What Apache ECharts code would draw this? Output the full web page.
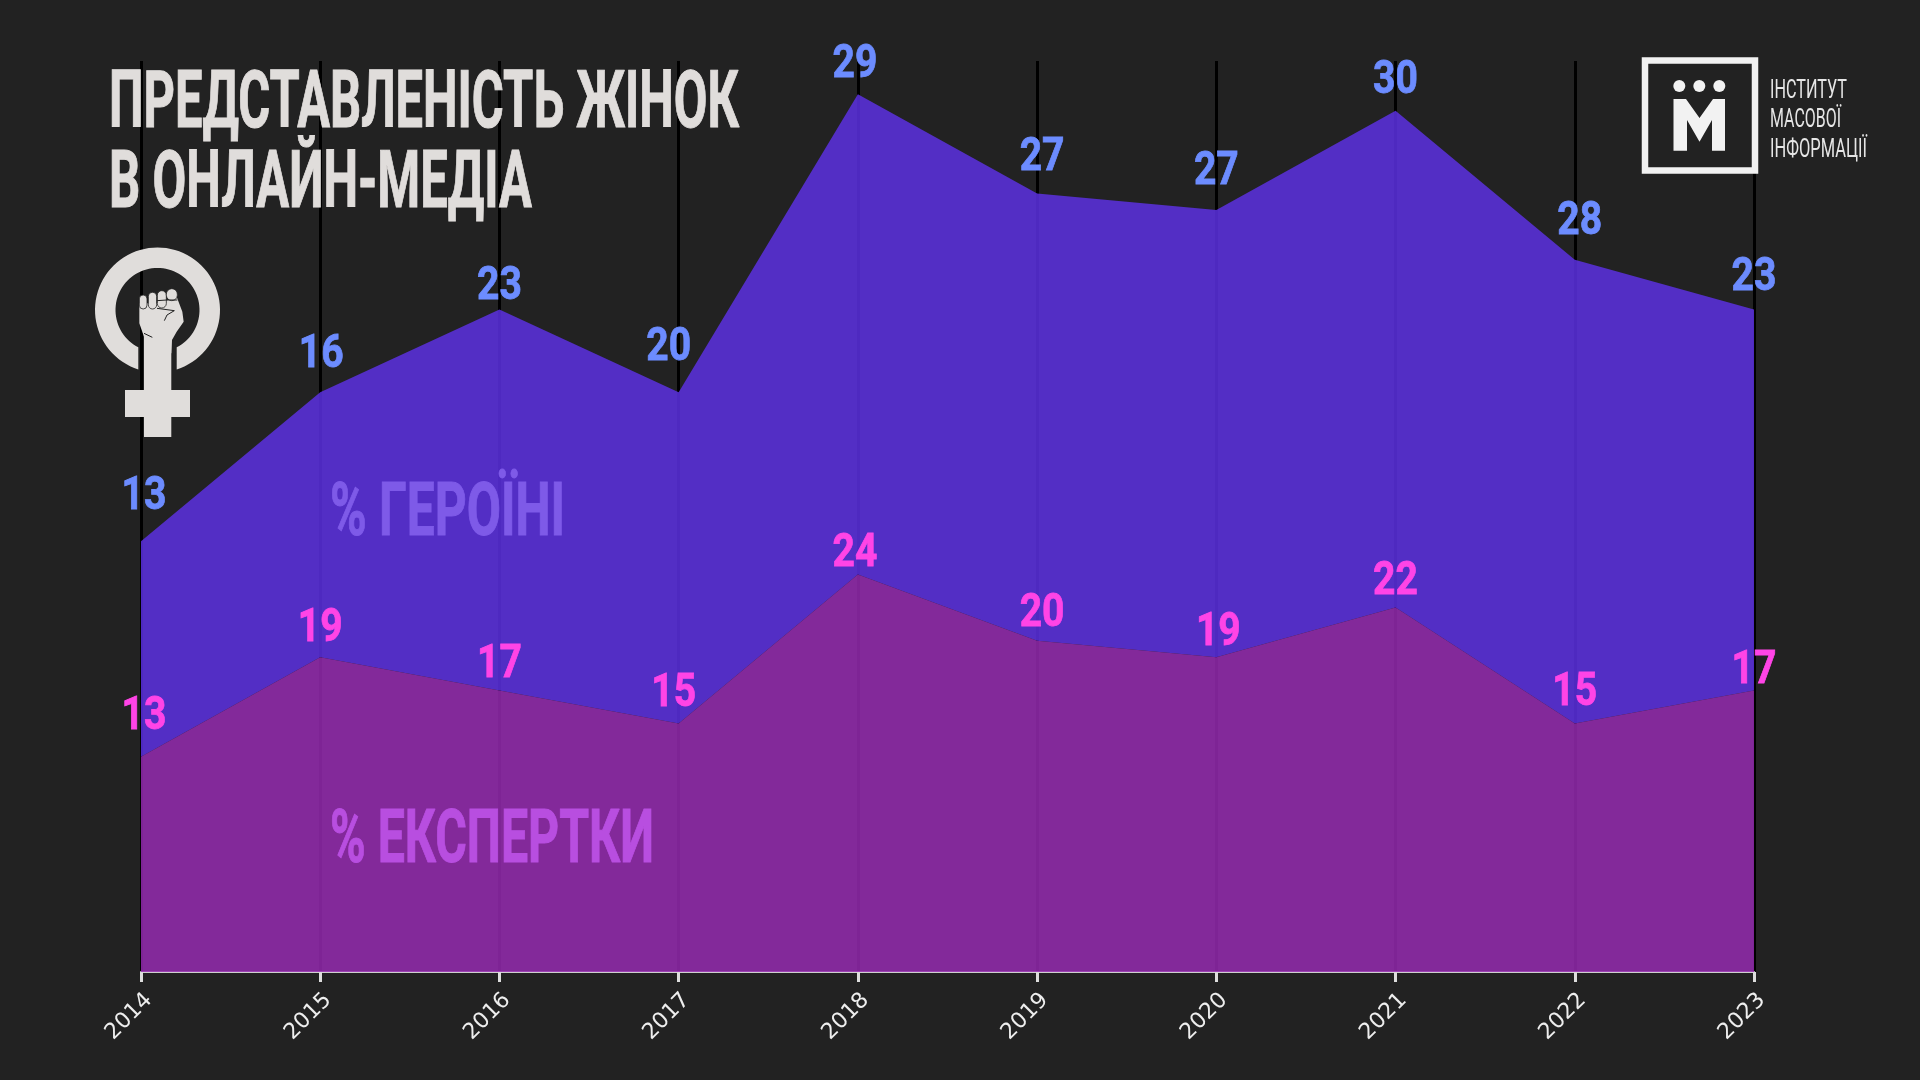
<!DOCTYPE html>
<html><head><meta charset="utf-8">
<style>html,body{margin:0;padding:0;background:#222222}#c{width:1920px;height:1080px}</style>
<script src="https://cdn.jsdelivr.net/npm/echarts@6/dist/echarts.min.js"></script>
</head><body><div id="c"></div>
<script>
const years = ['2014','2015','2016','2017','2018','2019','2020','2021','2022','2023'];
const experts = [13,19,17,15,24,20,19,22,15,17];
const heroines = [13,16,23,20,29,27,27,30,28,23];
const titleLines = ['ПРЕДСТАВЛЕНІСТЬ ЖІНОК','В ОНЛАЙН-МЕДІА'];
const heroName = '% ГЕРОЇНІ';
const expertName = '% ЕКСПЕРТКИ';
const logoLines = ['ІНСТИТУТ','МАСОВОЇ','ІНФОРМАЦІЇ'];

// label placement relative to each point (dx, dy of the text centre)
const heroShift = [[3,-44],[1,-37],[0,-22],[-10,-44],[-3,-29],[5,-35],[0,-38],[0,-29],[5,-37],[0,-31]];
const expertShift = [[3,-39],[0,-28],[0,-25],[-5,-29],[-3,-20],[5,-26],[2,-24],[0,-25],[0,-30],[0,-19]];

const FACE = 'Roboto';
const ctx = document.createElement('canvas').getContext('2d');
function fit(text, x, cy, size, width, color, weight, bold){
  const font = (weight||'bold') + ' ' + size + 'px ' + FACE;
  ctx.font = font;
  const sx = width / ctx.measureText(text).width;
  return {type:'text', x:x, y:cy, scaleX:sx, z:20, silent:true,
    style:{text:text, font:font, fill:color, align:'left', verticalAlign:'middle', stroke:bold?color:null, lineWidth:bold||0}};
}
const INK = '#e0dddb';
const Z = (a,b)=>[95+a/3, 240+b/3];
function poly(pts, fill){return {type:'polygon', z:20, silent:true, shape:{points:pts.map(p=>Z(p[0],p[1]))}, style:{fill:fill||INK}};}
function line(pts){return {type:'polyline', z:21, silent:true, shape:{points:pts.map(p=>Z(p[0],p[1]))}, style:{stroke:'#222222', lineWidth:1, fill:null}};}
function rrect(a,b,w,h,r){const p=Z(a,b);return {type:'rect', z:20, silent:true, shape:{x:p[0],y:p[1],width:w/3,height:h/3,r:r}, style:{fill:INK, stroke:'#222222', lineWidth:.8}};}
function ringPts(){
  const cx=157.5, cy=310, R=62.5, r=42, gap=19.2, pts=[];
  const aO=Math.asin(gap/R), aI=Math.asin(gap/r);
  for(let i=0;i<=80;i++){const t=aO+(2*Math.PI-2*aO)*i/80;pts.push([cx+R*Math.sin(t),cy+R*Math.cos(t)]);}
  for(let i=80;i>=0;i--){const t=aI+(2*Math.PI-2*aI)*i/80;pts.push([cx+r*Math.sin(t),cy+r*Math.cos(t)]);}
  return pts;
}
const feminist = [
  {type:'polygon', z:20, silent:true, shape:{points:ringPts()}, style:{fill:INK}},
  {type:'rect', z:20, silent:true, shape:{x:144,y:330,width:27.3,height:107}, style:{fill:INK}},
  {type:'rect', z:20, silent:true, shape:{x:125,y:390,width:65,height:27}, style:{fill:INK}},
  poly([[133,190],[190,190],[245,170],[262,215],[266,245],[245,275],[231,300],[229,340],[147,340],[147,290],[133,250]]),
  rrect(133,165,23,42,5), rrect(160,157,25,50,6), rrect(187,152,27,52,6), rrect(214,146,33,36,7),
  line([[186,182],[215,180],[247,180]]),
  line([[186,205],[238,212],[216,225],[208,242]]),
  line([[147,280],[172,292]])
];
const logo = [
  {type:'rect', z:20, silent:true, shape:{x:1645,y:60.5,width:110,height:110}, style:{fill:'#222222', stroke:'#f2f2f2', lineWidth:6.5}},
  {type:'circle', z:21, silent:true, shape:{cx:1679.3,cy:86,r:6}, style:{fill:'#f2f2f2'}},
  {type:'circle', z:21, silent:true, shape:{cx:1699.3,cy:86,r:6}, style:{fill:'#f2f2f2'}},
  {type:'circle', z:21, silent:true, shape:{cx:1719.3,cy:86,r:6}, style:{fill:'#f2f2f2'}},
  {type:'polygon', z:21, silent:true, shape:{points:[[1673.5,99],[1686,99],[1699.5,118],[1713,99],[1725,99],[1725,150.7],[1712,150.7],[1712,120],[1699.5,141.7],[1687,120],[1687,150.7],[1673.5,150.7]]}, style:{fill:'#f2f2f2'}},
  fit(logoLines[0],1770,91.5,25,77,'#e6e6e6','normal'),
  fit(logoLines[1],1770,120.5,25,71,'#e6e6e6','normal'),
  fit(logoLines[2],1770,150.5,25,97,'#e6e6e6','normal')
];
const texts = [
  fit(titleLines[0],109,107.5,79,630,INK,'bold',1),
  fit(titleLines[1],109,187.5,79,423,INK,'bold',1),
  fit(heroName,330,516,75,235,'#7e5ae8','bold',1),
  fit(expertName,330,843,75,324,'#b84ee0','bold',1)
];

function labelSeries(name, tops, vals, shift, color){
  return {
    name:name, type:'custom', coordinateSystem:'cartesian2d', z:10, silent:true,
    data: tops.map((t,i)=>[i,t,vals[i]]),
    encode:{x:0,y:1},
    renderItem:(params,api)=>{
      const i=api.value(0), p=api.coord([i,api.value(1)]);
      return {type:'text', x:p[0]+shift[i][0], y:p[1]+shift[i][1], scaleX:0.85, silent:true,
        style:{text:String(api.value(2)), font:'bold 46px '+FACE, fill:color, stroke:color, lineWidth:0.8, align:'center', verticalAlign:'middle'}};
    }
  };
}
const heroTops = heroines.map((v,i)=>v+experts[i]);

const chart = echarts.init(document.getElementById('c'), null, {renderer:'canvas'});
chart.setOption({
  animation:false,
  backgroundColor:'#222222',
  grid:{left:141, right:166, top:61, bottom:108, containLabel:false},
  xAxis:{type:'category', data:years, boundaryGap:false,
    axisLine:{show:true, onZero:false, lineStyle:{color:'#cfcfcf', width:2}},
    axisTick:{show:true, alignWithLabel:true, length:10, lineStyle:{color:'#dddddd', width:3}},
    axisLabel:{rotate:45, align:'right', verticalAlign:'top', color:'#eeeeee', fontFamily:'"DejaVu Sans"', fontSize:22, margin:17, interval:0, showMinLabel:true, showMaxLabel:true},
    splitLine:{show:true, lineStyle:{color:'#000000', width:3}}},
  yAxis:{type:'value', min:0, max:55, show:false, splitLine:{show:false}},
  series:[
    {name:expertName, type:'line', stack:'all', data:experts, symbol:'none', clip:false, z:3,
     lineStyle:{width:0}, areaStyle:{color:'rgba(148,42,175,0.85)', opacity:1}},
    {name:heroName, type:'line', stack:'all', data:heroines, symbol:'none', clip:false, z:2,
     lineStyle:{width:0}, areaStyle:{color:'rgba(92,48,226,0.85)', opacity:1}},
    labelSeries('heroLabels', heroTops, heroines, heroShift, '#6c8cff'),
    labelSeries('expertLabels', experts, experts, expertShift, '#ff44e6')
  ],
  graphic:{elements:[...texts, ...feminist, ...logo]}
});
</script></body></html>
